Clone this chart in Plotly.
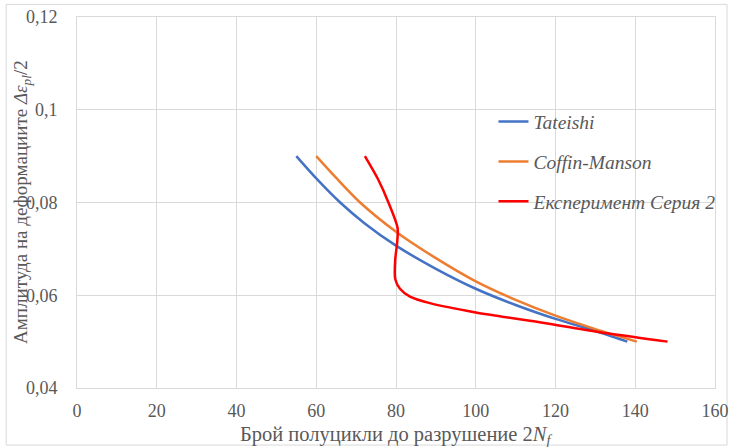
import plotly.graph_objects as go

tateishi_x = [55, 60, 66, 72, 80, 90, 100, 110, 120, 130, 138]
tateishi_y = [0.0900, 0.0852, 0.0800, 0.0756, 0.0707, 0.0657, 0.0614, 0.0579, 0.0549, 0.0523, 0.0500]

coffin_x = [60, 65, 71, 80, 90, 100, 110, 120, 130, 140.4]
coffin_y = [0.0900, 0.0853, 0.0800, 0.0737, 0.0680, 0.0630, 0.0590, 0.0556, 0.0527, 0.0500]

exp_x = [72.2, 75.5, 78.1, 80.4, 80.3, 79.8, 79.8, 81.0, 83.5, 88.5, 100, 116, 133, 148.1]
exp_y = [0.0900, 0.0850, 0.0800, 0.0745, 0.0715, 0.0676, 0.0635, 0.0614, 0.0597, 0.0583, 0.0563, 0.0542, 0.0518, 0.0500]

x_ticks = [0, 20, 40, 60, 80, 100, 120, 140, 160]
y_ticks = [0.04, 0.06, 0.08, 0.10, 0.12]
y_tick_text = ["0,04", "0,06", "0,08", "0,1", "0,12"]

FONT = "Liberation Serif, Times New Roman, DejaVu Serif, serif"
GRID = "#D9D9D9"
TXT = "#595959"

fig = go.Figure()
series = [
    ("Tateishi", tateishi_x, tateishi_y, "#4472C4"),
    ("Coffin-Manson", coffin_x, coffin_y, "#ED7D31"),
    ("Експеримент Серия 2", exp_x, exp_y, "#FF0000"),
]
for i, (name, xs, ys, col) in enumerate(series):
    fig.add_trace(go.Scatter(
        x=xs, y=ys, mode="lines", name=name, legendgroup=str(i),
        line=dict(color=col, width=2.5, shape="spline", smoothing=0.8),
    ))

fig.update_layout(
    width=730, height=447,
    margin=dict(l=77, r=15, t=17, b=59, autoexpand=False),
    paper_bgcolor="white", plot_bgcolor="white",
    font=dict(family=FONT, size=18, color=TXT),
    showlegend=True,
    legend=dict(
        xref="container", yref="container",
        x=0.676, y=0.771, xanchor="left", yanchor="top",
        bgcolor="rgba(0,0,0,0)", tracegroupgap=11.5,
        font=dict(family=FONT, size=19.5, color=TXT, style="italic"),
        itemwidth=30,
    ),
    xaxis=dict(
        range=[0, 160], tickvals=x_ticks, showgrid=True, gridcolor=GRID, gridwidth=1,
        zeroline=False, showline=True, linecolor=GRID, mirror=True, automargin=False,
        ticks="", ticklabelstandoff=6, tickfont=dict(family=FONT, size=18, color=TXT),
    ),
    yaxis=dict(
        range=[0.04, 0.12], tickvals=y_ticks, ticktext=y_tick_text, showgrid=True,
        gridcolor=GRID, gridwidth=1, zeroline=False, showline=True, linecolor=GRID,
        mirror=True, ticks="", ticklabelstandoff=15, automargin=False,
        tickfont=dict(family=FONT, size=18, color=TXT),
    ),
    shapes=[dict(
        type="rect", xref="paper", yref="paper", x0=-0.111, x1=1.0188, y0=-0.1538, y1=1.034,
        line=dict(color="#D9D9D9", width=1), layer="below",
    )],
    annotations=[
        dict(text="Брой полуцикли до разрушение 2<i>N<sub>f</sub></i>", xref="paper", yref="paper",
             x=0.5, y=-0.128, xanchor="center", yanchor="middle", showarrow=False,
             font=dict(family=FONT, size=20.5, color=TXT)),
        dict(text="Амплитуда на деформациите <i>Δε<sub>pl</sub></i>/2", xref="paper", yref="paper",
             x=-0.086, y=0.502, xanchor="center", yanchor="middle", textangle=-90, showarrow=False,
             font=dict(family=FONT, size=19, color=TXT)),
    ],
)

fig.write_html("out.html", config={"displayModeBar": False},
               post_script="document.body.style.margin='0';document.body.style.overflow='hidden';")
